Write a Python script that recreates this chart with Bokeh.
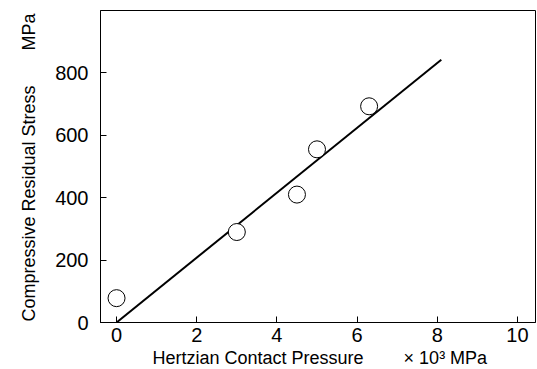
from bokeh.plotting import figure
from bokeh.models import Range1d, FixedTicker, Title
from bokeh.embed import file_html
from bokeh.resources import INLINE

pressure = [0.0, 3.0, 4.5, 5.0, 6.3]
stress = [78, 290, 410, 555, 693]
fit_x = [0.0, 8.1]
fit_y = [0.0, 842.0]
x_ticks = [0, 2, 4, 6, 8, 10]
y_ticks = [0, 200, 400, 600, 800]
y_title = "Compressive Residual Stress"
y_unit = "MPa"
x_title = "Hertzian Contact Pressure"
x_unit = "× 10³ MPa"

FONT = "Liberation Sans"
NB = "\u00a0"

p = figure(width=537, height=369, output_backend="svg", toolbar_location=None,
           x_range=Range1d(-0.4, 10.45), y_range=Range1d(0, 1000),
           min_border_left=100, min_border_right=2, min_border_top=10, min_border_bottom=46)
p.grid.visible = False
p.outline_line_color = "black"
p.outline_line_width = 1
p.background_fill_color = "white"
p.border_fill_color = "white"

for ax in (p.xaxis[0], p.yaxis[0]):
    ax.major_tick_in = 6
    ax.major_tick_out = 0
    ax.minor_tick_line_color = None
    ax.axis_line_color = "black"
    ax.major_tick_line_color = "black"
    ax.major_label_text_font = FONT
    ax.major_label_text_font_size = "20px"
    ax.major_label_text_color = "black"
p.xaxis[0].ticker = FixedTicker(ticks=x_ticks)
p.yaxis[0].ticker = FixedTicker(ticks=y_ticks)
p.xaxis[0].major_label_standoff = 5
p.yaxis[0].major_label_standoff = 12

p.line(fit_x, fit_y, line_color="black", line_width=2)
p.scatter(pressure, stress, size=17, marker="circle", fill_color="white",
          line_color="black", line_width=1)

p.add_layout(Title(text=y_title + NB * 7 + y_unit, align="left", offset=1, standoff=28,
                   text_font=FONT, text_font_size="18px", text_font_style="normal",
                   text_color="black"), "left")
p.add_layout(Title(text=x_title + NB * 8 + x_unit, align="left", offset=52, standoff=3,
                   text_font=FONT, text_font_size="18px", text_font_style="normal",
                   text_color="black"), "below")

open("out.html", "w").write(file_html(p, INLINE))
